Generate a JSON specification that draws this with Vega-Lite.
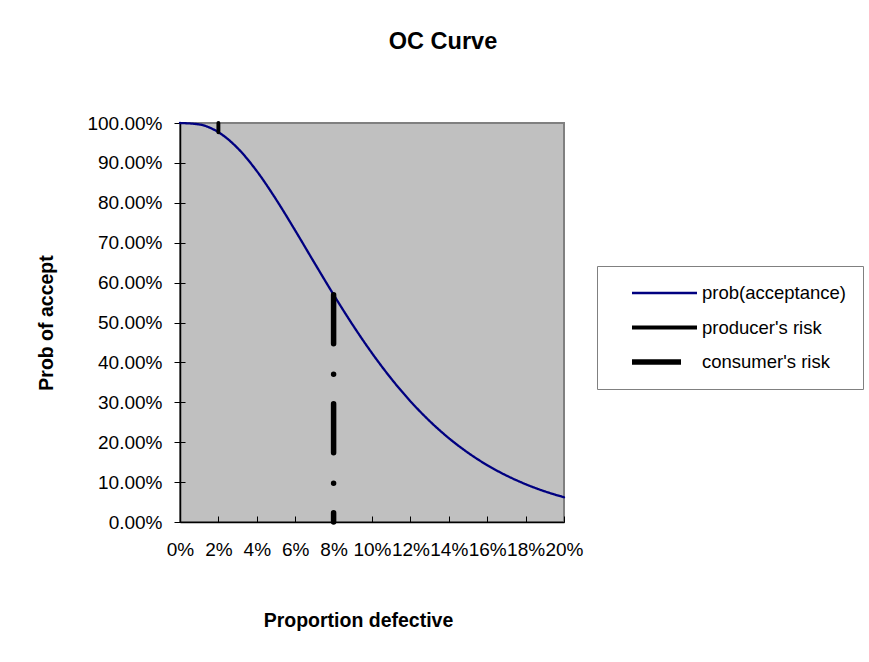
{
  "$schema": "https://vega.github.io/schema/vega-lite/v6.json",
  "width": 384,
  "height": 399,
  "autosize": {"type": "none"},
  "padding": {"left": 180, "top": 123, "right": 305, "bottom": 140},
  "background": "white",
  "config": {
    "font": "Liberation Sans",
    "view": {"fill": "#C0C0C0", "stroke": "#808080", "strokeWidth": 2}
  },
  "title": {
    "text": "OC Curve",
    "fontSize": 23.5,
    "fontWeight": "bold",
    "color": "black",
    "anchor": "middle",
    "dx": 71,
    "offset": 42,
    "baseline": "alphabetic",
    "font": "Liberation Sans"
  },
  "data": {
    "values": [
      {"series": "prob(acceptance)", "p": 0.0, "prob": 1.0, "i": 0},
      {"series": "prob(acceptance)", "p": 0.01, "prob": 0.9964, "i": 1},
      {"series": "prob(acceptance)", "p": 0.02, "prob": 0.9769, "i": 2},
      {"series": "prob(acceptance)", "p": 0.03, "prob": 0.9371, "i": 3},
      {"series": "prob(acceptance)", "p": 0.04, "prob": 0.8795, "i": 4},
      {"series": "prob(acceptance)", "p": 0.05, "prob": 0.8088, "i": 5},
      {"series": "prob(acceptance)", "p": 0.06, "prob": 0.7306, "i": 6},
      {"series": "prob(acceptance)", "p": 0.07, "prob": 0.6496, "i": 7},
      {"series": "prob(acceptance)", "p": 0.08, "prob": 0.5697, "i": 8},
      {"series": "prob(acceptance)", "p": 0.09, "prob": 0.4936, "i": 9},
      {"series": "prob(acceptance)", "p": 0.10, "prob": 0.4232, "i": 10},
      {"series": "prob(acceptance)", "p": 0.11, "prob": 0.3594, "i": 11},
      {"series": "prob(acceptance)", "p": 0.12, "prob": 0.3027, "i": 12},
      {"series": "prob(acceptance)", "p": 0.13, "prob": 0.2531, "i": 13},
      {"series": "prob(acceptance)", "p": 0.14, "prob": 0.2102, "i": 14},
      {"series": "prob(acceptance)", "p": 0.15, "prob": 0.1736, "i": 15},
      {"series": "prob(acceptance)", "p": 0.16, "prob": 0.1425, "i": 16},
      {"series": "prob(acceptance)", "p": 0.17, "prob": 0.1165, "i": 17},
      {"series": "prob(acceptance)", "p": 0.18, "prob": 0.0948, "i": 18},
      {"series": "prob(acceptance)", "p": 0.19, "prob": 0.0768, "i": 19},
      {"series": "prob(acceptance)", "p": 0.20, "prob": 0.0620, "i": 20},
      {"series": "producer's risk", "p": 0.02, "prob": 1.0, "i": 0},
      {"series": "producer's risk", "p": 0.02, "prob": 0.9769, "i": 1},
      {"series": "consumer's risk", "p": 0.08, "prob": 0.5697, "i": 0},
      {"series": "consumer's risk", "p": 0.08, "prob": 0.0, "i": 1}
    ]
  },
  "encoding": {
    "x": {
      "field": "p",
      "type": "quantitative",
      "scale": {"domain": [0, 0.2], "nice": false, "zero": false},
      "axis": {
        "values": [0, 0.02, 0.04, 0.06, 0.08, 0.1, 0.12, 0.14, 0.16, 0.18, 0.2],
        "format": ".0%",
        "grid": false,
        "domainColor": "black",
        "domainWidth": 1.5,
        "tickColor": "black",
        "tickSize": -6,
        "labelPadding": 24,
        "labelFontSize": 19,
        "labelColor": "black",
        "labelOverlap": false,
        "labelFlush": false,
        "title": "Proportion defective",
        "titleFontSize": 19.5,
        "titleFontWeight": "bold",
        "titleColor": "black",
        "titlePadding": 52,
        "titleX": 178
      }
    },
    "y": {
      "field": "prob",
      "type": "quantitative",
      "scale": {"domain": [0, 1], "nice": false},
      "axis": {
        "values": [0, 0.1, 0.2, 0.3, 0.4, 0.5, 0.6, 0.7, 0.8, 0.9, 1.0],
        "format": ".2%",
        "grid": false,
        "domainColor": "black",
        "domainWidth": 1.5,
        "tickColor": "black",
        "tickSize": 6,
        "labelPadding": 12,
        "labelFontSize": 19,
        "labelColor": "black",
        "labelOverlap": false,
        "labelFlush": false,
        "title": "Prob of accept",
        "titleFontSize": 19.5,
        "titleFontWeight": "bold",
        "titleColor": "black",
        "titlePadding": 30
      }
    },
    "color": {
      "field": "series",
      "type": "nominal",
      "scale": {
        "domain": ["prob(acceptance)", "producer's risk", "consumer's risk"],
        "range": ["#000080", "black", "black"]
      },
      "legend": {
        "orient": "none",
        "legendX": 417,
        "legendY": 143,
        "title": null,
        "strokeColor": "#808080",
        "fillColor": "white",
        "padding": 17,
        "symbolType": "stroke",
        "symbolSize": 4225,
        "clipHeight": 20,
        "rowPadding": 14.5,
        "symbolOffset": 15,
        "labelOffset": 2,
        "labelFontSize": 18.5,
        "labelFont": "Liberation Sans",
        "labelColor": "black"
      }
    },
    "strokeWidth": {
      "field": "series",
      "type": "nominal",
      "scale": {
        "domain": ["prob(acceptance)", "producer's risk", "consumer's risk"],
        "range": [2.3, 5.5, 5.5]
      }
    },
    "strokeDash": {
      "field": "series",
      "type": "nominal",
      "scale": {
        "domain": ["prob(acceptance)", "producer's risk", "consumer's risk"],
        "range": [[1, 0], [1, 0], [49, 30.5, 0.1, 29.4]]
      }
    }
  },
  "layer": [
    {
      "transform": [{"filter": "datum.series === 'prob(acceptance)'"}],
      "mark": {"type": "line", "interpolate": "monotone", "strokeCap": "round"}
    },
    {
      "transform": [{"filter": "datum.series !== 'prob(acceptance)'"}],
      "mark": {"type": "line", "strokeCap": "round"},
      "encoding": {
        "y": {
          "field": "prob",
          "type": "quantitative",
          "scale": {"domain": [0, 1], "nice": false},
          "axis": {
            "orient": "left",
            "values": [0, 0.1, 0.2, 0.3, 0.4, 0.5, 0.6, 0.7, 0.8, 0.9, 1.0],
            "labels": false,
            "domain": false,
            "grid": false,
            "tickColor": "black",
            "tickSize": -5,
            "title": null
          }
        },
        "order": {"field": "i", "type": "quantitative"},
        "detail": {"field": "series"}
      }
    }
  ],
  "resolve": {"axis": {"y": "independent"}}
}
